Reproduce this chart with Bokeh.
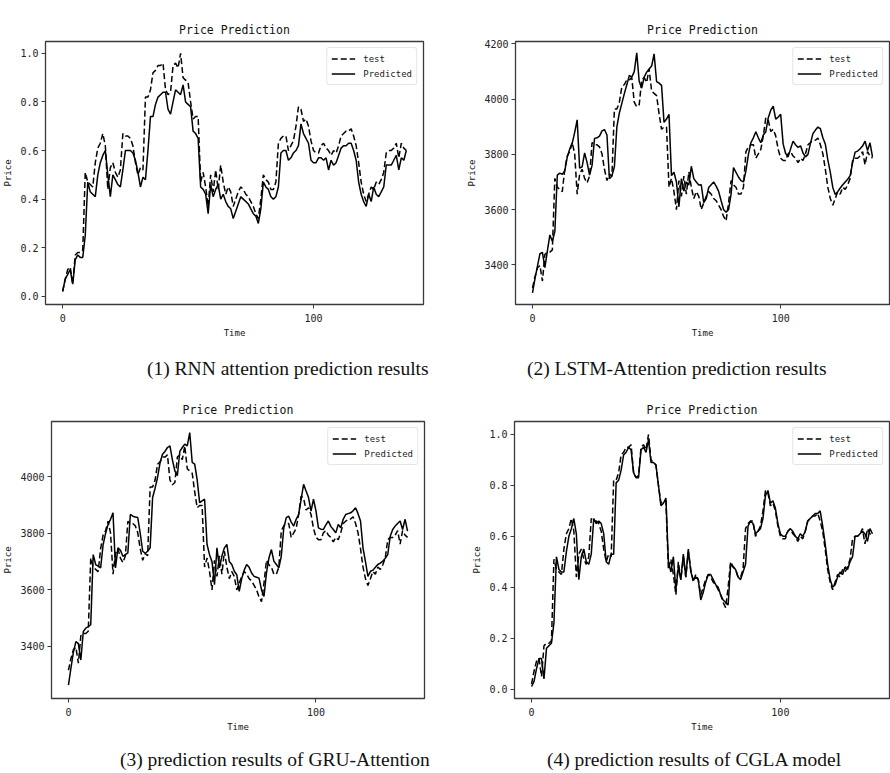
from bokeh.plotting import figure
from bokeh.models import Range1d, FixedTicker, Legend, LegendItem, PrintfTickFormatter, Div
from bokeh.layouts import column, row
from bokeh.embed import file_html
from bokeh.resources import INLINE

# ---------------- data ----------------
time_idx = list(range(138))

test_norm = [
    0.02, 0.07, 0.11, 0.12, 0.05, 0.17, 0.18, 0.18, 0.19, 0.51,
    0.47, 0.46, 0.45, 0.55, 0.61, 0.63, 0.67, 0.62, 0.44, 0.53,
    0.55, 0.51, 0.49, 0.52, 0.67, 0.66, 0.66, 0.65, 0.62, 0.55,
    0.50, 0.53, 0.52, 0.82, 0.82, 0.85, 0.92, 0.93, 0.95, 0.95,
    0.96, 0.85, 0.83, 0.84, 0.95, 0.96, 0.94, 1.00, 0.90, 0.89,
    0.88, 0.80, 0.73, 0.74, 0.74, 0.47, 0.51, 0.45, 0.37, 0.50,
    0.43, 0.52, 0.44, 0.54, 0.47, 0.42, 0.45, 0.43, 0.37, 0.40,
    0.43, 0.45, 0.44, 0.42, 0.41, 0.39, 0.37, 0.34, 0.32, 0.40,
    0.50, 0.48, 0.47, 0.44, 0.44, 0.47, 0.63, 0.65, 0.66, 0.66,
    0.60, 0.62, 0.64, 0.70, 0.78, 0.77, 0.72, 0.73, 0.70, 0.64,
    0.60, 0.59, 0.59, 0.62, 0.63, 0.61, 0.60, 0.58, 0.60, 0.59,
    0.62, 0.66, 0.67, 0.68, 0.68, 0.69, 0.66, 0.62, 0.55, 0.47,
    0.42, 0.39, 0.42, 0.45, 0.44, 0.47, 0.46, 0.48, 0.51, 0.59,
    0.60, 0.60, 0.61, 0.63, 0.57, 0.63, 0.61, 0.60,
]

pred_rnn = [
    0.02, 0.07, 0.09, 0.11, 0.05, 0.15, 0.17, 0.16, 0.16, 0.25,
    0.47, 0.43, 0.42, 0.41, 0.50, 0.55, 0.58, 0.60, 0.50, 0.41,
    0.50, 0.48, 0.46, 0.45, 0.52, 0.60, 0.60, 0.60, 0.59, 0.56,
    0.51, 0.45, 0.49, 0.48, 0.60, 0.74, 0.74, 0.79, 0.82, 0.83,
    0.84, 0.84, 0.77, 0.75, 0.80, 0.85, 0.84, 0.83, 0.87, 0.80,
    0.79, 0.78, 0.68, 0.67, 0.65, 0.45, 0.44, 0.42, 0.34, 0.46,
    0.41, 0.44, 0.46, 0.40, 0.42, 0.39, 0.37, 0.36, 0.32, 0.35,
    0.38, 0.41, 0.40, 0.39, 0.38, 0.36, 0.34, 0.33, 0.30, 0.36,
    0.47, 0.45, 0.44, 0.41, 0.40, 0.41, 0.45, 0.59, 0.60, 0.60,
    0.56, 0.57, 0.59, 0.60, 0.62, 0.71, 0.67, 0.65, 0.63, 0.56,
    0.55, 0.55, 0.57, 0.57, 0.56, 0.57, 0.52, 0.56, 0.54, 0.55,
    0.58, 0.61, 0.62, 0.62, 0.63, 0.63, 0.60, 0.56, 0.47, 0.42,
    0.39, 0.37, 0.42, 0.39, 0.45, 0.42, 0.41, 0.43, 0.45, 0.54,
    0.54, 0.54, 0.56, 0.58, 0.52, 0.57, 0.56, 0.60,
]

pred_cgla = [
    0.01, 0.03, 0.08, 0.12, 0.12, 0.04, 0.16, 0.17, 0.18, 0.26,
    0.52, 0.47, 0.46, 0.46, 0.54, 0.60, 0.63, 0.67, 0.61, 0.43,
    0.52, 0.55, 0.50, 0.49, 0.53, 0.67, 0.65, 0.66, 0.65, 0.61,
    0.50, 0.49, 0.53, 0.53, 0.81, 0.82, 0.86, 0.92, 0.93, 0.95,
    0.94, 0.85, 0.83, 0.83, 0.94, 0.95, 0.93, 0.98, 0.89, 0.89,
    0.88, 0.80, 0.72, 0.73, 0.75, 0.50, 0.46, 0.52, 0.39, 0.48,
    0.43, 0.53, 0.44, 0.55, 0.46, 0.43, 0.44, 0.43, 0.35, 0.38,
    0.42, 0.45, 0.45, 0.43, 0.41, 0.40, 0.37, 0.35, 0.34, 0.33,
    0.49, 0.48, 0.47, 0.44, 0.43, 0.46, 0.49, 0.64, 0.66, 0.65,
    0.61, 0.62, 0.63, 0.67, 0.76, 0.78, 0.73, 0.74, 0.71, 0.65,
    0.61, 0.60, 0.60, 0.62, 0.63, 0.62, 0.60, 0.59, 0.61, 0.60,
    0.62, 0.66, 0.67, 0.68, 0.69, 0.69, 0.70, 0.64, 0.57, 0.49,
    0.43, 0.40, 0.41, 0.44, 0.46, 0.45, 0.48, 0.47, 0.50, 0.52,
    0.60, 0.60, 0.61, 0.62, 0.61, 0.58, 0.63, 0.61,
]

test_price = [
    3316, 3357, 3389, 3397, 3341, 3438, 3446, 3446, 3454, 3713,
    3681, 3673, 3665, 3746, 3794, 3810, 3843, 3802, 3656, 3729,
    3746, 3713, 3697, 3721, 3843, 3835, 3835, 3827, 3802, 3746,
    3705, 3729, 3721, 3964, 3964, 3989, 4045, 4053, 4070, 4070,
    4078, 3989, 3972, 3980, 4070, 4078, 4061, 4110, 4029, 4021,
    4013, 3948, 3891, 3899, 3899, 3681, 3713, 3665, 3600, 3705,
    3648, 3721, 3656, 3737, 3681, 3640, 3665, 3648, 3600, 3624,
    3648, 3665, 3656, 3640, 3632, 3616, 3600, 3575, 3559, 3624,
    3705, 3689, 3681, 3656, 3656, 3681, 3810, 3827, 3835, 3835,
    3786, 3802, 3818, 3867, 3932, 3924, 3883, 3891, 3867, 3818,
    3786, 3778, 3778, 3802, 3810, 3794, 3786, 3770, 3786, 3778,
    3802, 3835, 3843, 3851, 3851, 3859, 3835, 3802, 3746, 3681,
    3640, 3616, 3640, 3665, 3656, 3681, 3673, 3689, 3713, 3778,
    3786, 3786, 3794, 3810, 3762, 3810, 3794, 3786,
]

pred_lstm = [
    3298, 3350, 3395, 3440, 3445, 3390, 3450, 3508, 3485, 3520,
    3725, 3732, 3728, 3740, 3790, 3820, 3840, 3880, 3925, 3750,
    3755, 3805, 3770, 3725, 3760, 3858, 3860, 3866, 3885, 3890,
    3870, 3712, 3722, 3755, 3900, 3950, 3985, 4020, 4052, 4086,
    4080, 4100, 4168, 4064, 4040, 4080, 4098, 4109, 4120, 4164,
    4064, 4058, 4050, 3916, 3928, 3945, 3723, 3735, 3700, 3610,
    3712, 3667, 3700, 3689, 3757, 3712, 3700, 3689, 3690, 3625,
    3640, 3680, 3690, 3700, 3685, 3666, 3632, 3600, 3590, 3600,
    3655, 3752, 3735, 3718, 3705, 3700, 3740, 3800, 3842, 3860,
    3882, 3860, 3842, 3870, 3882, 3933, 3960, 3975, 3928, 3935,
    3945, 3837, 3803, 3791, 3820, 3848, 3835, 3825, 3831, 3805,
    3791, 3800, 3840, 3875, 3888, 3899, 3893, 3860, 3837, 3780,
    3735, 3680, 3655, 3665, 3678, 3690, 3700, 3710, 3723, 3770,
    3808, 3812, 3820, 3830, 3848, 3814, 3842, 3791,
]

pred_gru = [
    3263, 3323, 3380, 3417, 3410, 3352, 3453, 3465, 3470, 3477,
    3725, 3690, 3684, 3678, 3760, 3800, 3832, 3850, 3873, 3678,
    3749, 3740, 3719, 3725, 3731, 3867, 3861, 3858, 3856, 3800,
    3737, 3730, 3737, 3749, 3927, 3960, 3998, 4050, 4080, 4090,
    4104, 4110, 4060, 4021, 4004, 4090, 4104, 4116, 4110, 4157,
    4051, 4045, 3990, 3909, 3915, 3921, 3761, 3725, 3700, 3619,
    3749, 3678, 3720, 3749, 3761, 3700, 3690, 3666, 3654, 3595,
    3640, 3670, 3690, 3680, 3660, 3648, 3645, 3642, 3600, 3577,
    3660, 3713, 3743, 3702, 3690, 3678, 3720, 3820, 3856, 3861,
    3840, 3826, 3850, 3867, 3920, 3974, 3950, 3927, 3879, 3921,
    3880, 3820, 3815, 3814, 3830, 3844, 3825, 3814, 3802, 3832,
    3820, 3850, 3867, 3870, 3873, 3880, 3891, 3870, 3844, 3749,
    3700, 3648, 3666, 3670, 3680, 3690, 3695, 3702, 3712, 3725,
    3790, 3814, 3826, 3835, 3844, 3814, 3850, 3808,
]

x_ticks = [0, 100]
norm_ticks = [0.0, 0.2, 0.4, 0.6, 0.8, 1.0]
price_ticks_lstm = [3400, 3600, 3800, 4000, 4200]
price_ticks_gru = [3400, 3600, 3800, 4000]
legend_labels = ["test", "Predicted"]
chart_title = "Price Prediction"
x_label = "Time"
y_label = "Price"
captions = [
    "(1) RNN attention prediction results",
    "(2) LSTM-Attention prediction results",
    "(3) prediction results of GRU-Attention",
    "(4) prediction results of CGLA model",
]

MONO = "DejaVu Sans Mono"
SERIF = "Liberation Serif"
INK = "#222222"


def make_panel(test, pred, size, border, yr, yticks, yfmt):
    w, h = size
    left, right, top, bottom = border
    p = figure(width=w, height=h, output_backend="svg", toolbar_location=None,
               x_range=Range1d(-6.85, 143.85), y_range=Range1d(*yr),
               min_border_left=left, min_border_right=right,
               min_border_top=top, min_border_bottom=bottom)
    p.background_fill_color = "white"
    p.border_fill_color = "white"
    p.xgrid.visible = False
    p.ygrid.visible = False
    p.outline_line_color = "#3a3a3a"
    p.outline_line_width = 1.3
    p.outline_line_alpha = 1.0

    r_test = p.line(time_idx, test, line_color="black", line_width=1.5, line_dash="6 3")
    r_pred = p.line(time_idx, pred, line_color="black", line_width=1.5)

    for ax in (p.xaxis[0], p.yaxis[0]):
        ax.axis_line_color = None
        ax.minor_tick_line_color = None
        ax.major_tick_line_color = "#3a3a3a"
        ax.major_tick_out = 4
        ax.major_tick_in = 0
        ax.major_label_text_font = MONO
        ax.major_label_text_font_size = "10px"
        ax.major_label_text_color = INK
        ax.major_label_standoff = 3
        ax.axis_label_text_font = MONO
        ax.axis_label_text_font_size = "9px"
        ax.axis_label_text_font_style = "normal"
        ax.axis_label_text_color = "#111111"
        ax.axis_label_standoff = 4
    p.xaxis.major_label_standoff = 5
    p.xaxis.axis_label_standoff = 3
    p.xaxis.ticker = FixedTicker(ticks=x_ticks)
    p.yaxis.ticker = FixedTicker(ticks=yticks)
    if yfmt:
        p.yaxis.formatter = PrintfTickFormatter(format=yfmt)
    p.xaxis.axis_label = x_label
    p.yaxis.axis_label = y_label

    legend = Legend(items=[LegendItem(label=legend_labels[0], renderers=[r_test]),
                           LegendItem(label=legend_labels[1], renderers=[r_pred])],
                    location="top_right")
    legend.margin = 6
    legend.padding = 4
    legend.spacing = 2
    legend.glyph_width = 24
    legend.glyph_height = 13
    legend.label_height = 13
    legend.label_standoff = 8
    legend.label_text_font = MONO
    legend.label_text_font_size = "9px"
    legend.label_text_color = INK
    legend.border_line_color = "#cccccc"
    legend.border_line_width = 1
    legend.border_radius = 3
    legend.background_fill_color = "white"
    legend.background_fill_alpha = 0.85
    p.add_layout(legend)

    p.title.text = chart_title
    p.title.align = "center"
    p.title.text_font = MONO
    p.title.text_font_size = "11.5px"
    p.title.text_font_style = "normal"
    p.title.text_color = "#111111"
    p.title.standoff = 9
    return p


def make_caption(text, height, pad_left, pad_top):
    html = ('<div style="margin:0; padding:%dpx 0 0 %dpx; font-family:\'%s\'; '
            'font-size:19.5px; line-height:22px; color:#111111; white-space:nowrap;">%s</div>'
            % (pad_top, pad_left, SERIF, text))
    return Div(text=html, width=445, height=height, margin=0)


p1 = make_panel(test_norm, pred_rnn, (445, 346), (45, 22, 41, 40),
                (-0.034, 1.049), norm_ticks, "%.1f")
p2 = make_panel(test_price, pred_lstm, (445, 346), (70, 1, 24, 42),
                (3256, 4209), price_ticks_lstm, None)
p3 = make_panel(test_price, pred_gru, (445, 349), (47, 21, 31, 40),
                (3216, 4196), price_ticks_gru, None)
p4 = make_panel(test_norm, pred_cgla, (445, 349), (69, 1, 26, 41),
                (-0.037, 1.051), norm_ticks, "%.1f")

d1 = make_caption(captions[0], 44, 147, 12)
d2 = make_caption(captions[1], 44, 82, 12)
d3 = make_caption(captions[2], 34, 120, 10)
d4 = make_caption(captions[3], 34, 102, 10)

layout = column(row(p1, p2), row(d1, d2), row(p3, p4), row(d3, d4))

with open("out.html", "w") as f:
    f.write(file_html(layout, INLINE))
